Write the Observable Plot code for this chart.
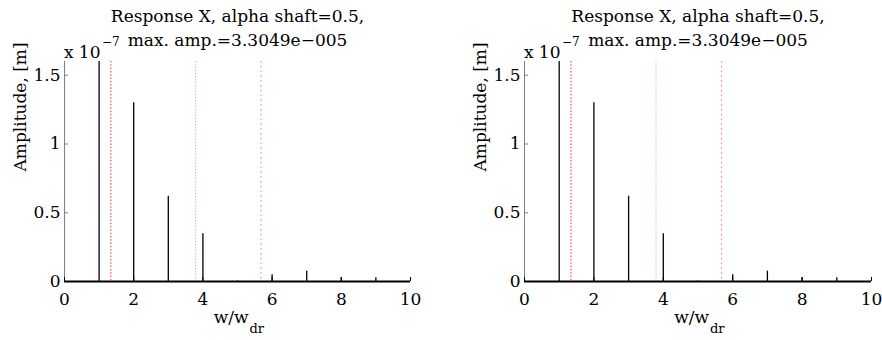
<!DOCTYPE html>
<html>
<head>
<meta charset="utf-8">
<script src="https://cdn.jsdelivr.net/npm/d3@7"></script>
<script src="https://cdn.jsdelivr.net/npm/@observablehq/plot@0.6"></script>
<style>
  html, body { margin: 0; padding: 0; background: #fff; }
  #wrap { display: flex; width: 882px; height: 340px; }
  #wrap svg, #wrap svg text { font-family: "DejaVu Serif", serif !important; }
</style>
</head>
<body>
<div id="wrap"></div>
<script>
// Stem data (amplitude in units of 1e-7 m); the w=1 component is the max amp (clipped)
const freqs = [1, 2, 3, 4, 5, 6, 7, 8, 9];
const amps  = [330.49, 1.30, 0.62, 0.347, 0.004, 0.05, 0.075, 0.03, 0.027];
// Dotted vertical reference lines (w/w_dr)
const refLines  = [1.34, 3.79, 5.68];
const refColors = ["#ff2a2a", "#ffaaaa", "#ff7070"];
const refDash   = ["1.5,1.8", "1.5,1.5", "1.5,3.3"];
const xTicks = [0, 2, 4, 6, 8, 10];
const yTicks = [0, 0.5, 1, 1.5];
const titleText = "Response X, alpha shaft=0.5,\nmax. amp.=3.3049e\u2212005";
const yLabel = "Amplitude, [m]";

const stems = freqs.map((f, i) => ({f, a: amps[i]}));

function panel(marginLeft, marginRight) {
  const W = 441, H = 340, mt = 61, mb = 59;
  const fw = W - marginLeft - marginRight, fh = H - mt - mb;
  const fs = 17;
  const font = {fill: "black"};
  return Plot.plot({
    width: W, height: H,
    marginLeft, marginRight, marginTop: mt, marginBottom: mb,
    style: {fontSize: fs + "px", background: "white", color: "black"},
    x: {domain: [0, 10]},
    y: {domain: [0, 1.6]},
    marks: [
      ...refLines.map((v, i) => Plot.ruleX([v], {stroke: refColors[i], strokeDasharray: refDash[i], strokeWidth: 1})),
      Plot.ruleX(stems, {x: "f", y1: 0, y2: "a", stroke: "black", strokeWidth: 1.3, clip: true}),
      Plot.ruleX([0], {stroke: "#808080", strokeWidth: 1}),
      Plot.axisY({ticks: yTicks, tickSize: 0, tickPadding: 4, tickFormat: d => String(d), fontSize: fs, label: null}),
      Plot.tickY(yTicks, {y: d => d, insetRight: fw - 4, stroke: "#808080"}),
      Plot.axisX({ticks: xTicks, tickSize: 0, tickPadding: 11, tickFormat: d => String(d), fontSize: fs, label: null}),
      Plot.tickX(xTicks, {x: d => d, insetTop: fh - 4, stroke: "black"}),
      Plot.ruleY([0], {stroke: "black", strokeWidth: 2}),
      Plot.text([titleText], {frameAnchor: "top", lineAnchor: "bottom", dy: -16, lineHeight: 1.41, fontSize: fs, ...font}),
      Plot.text(["x 10"], {frameAnchor: "top-left", textAnchor: "end", lineAnchor: "bottom", dx: 36, dy: -4, fontSize: fs, ...font}),
      Plot.text(["\u22127"], {frameAnchor: "top-left", textAnchor: "start", lineAnchor: "bottom", dx: 37.5, dy: -16, fontSize: 12, ...font}),
      Plot.text([yLabel], {frameAnchor: "left", rotate: -90, dx: -44, fontSize: fs, ...font}),
      Plot.text(["w/w"], {frameAnchor: "bottom", textAnchor: "end", lineAnchor: "bottom", dx: 11, dy: 41, fontSize: fs, ...font}),
      Plot.text(["dr"], {frameAnchor: "bottom", textAnchor: "start", lineAnchor: "bottom", dx: 12, dy: 51, fontSize: 13, ...font})
    ]
  });
}

const wrap = document.getElementById("wrap");
wrap.appendChild(panel(64, 31));
wrap.appendChild(panel(83, 11));
</script>
</body>
</html>
